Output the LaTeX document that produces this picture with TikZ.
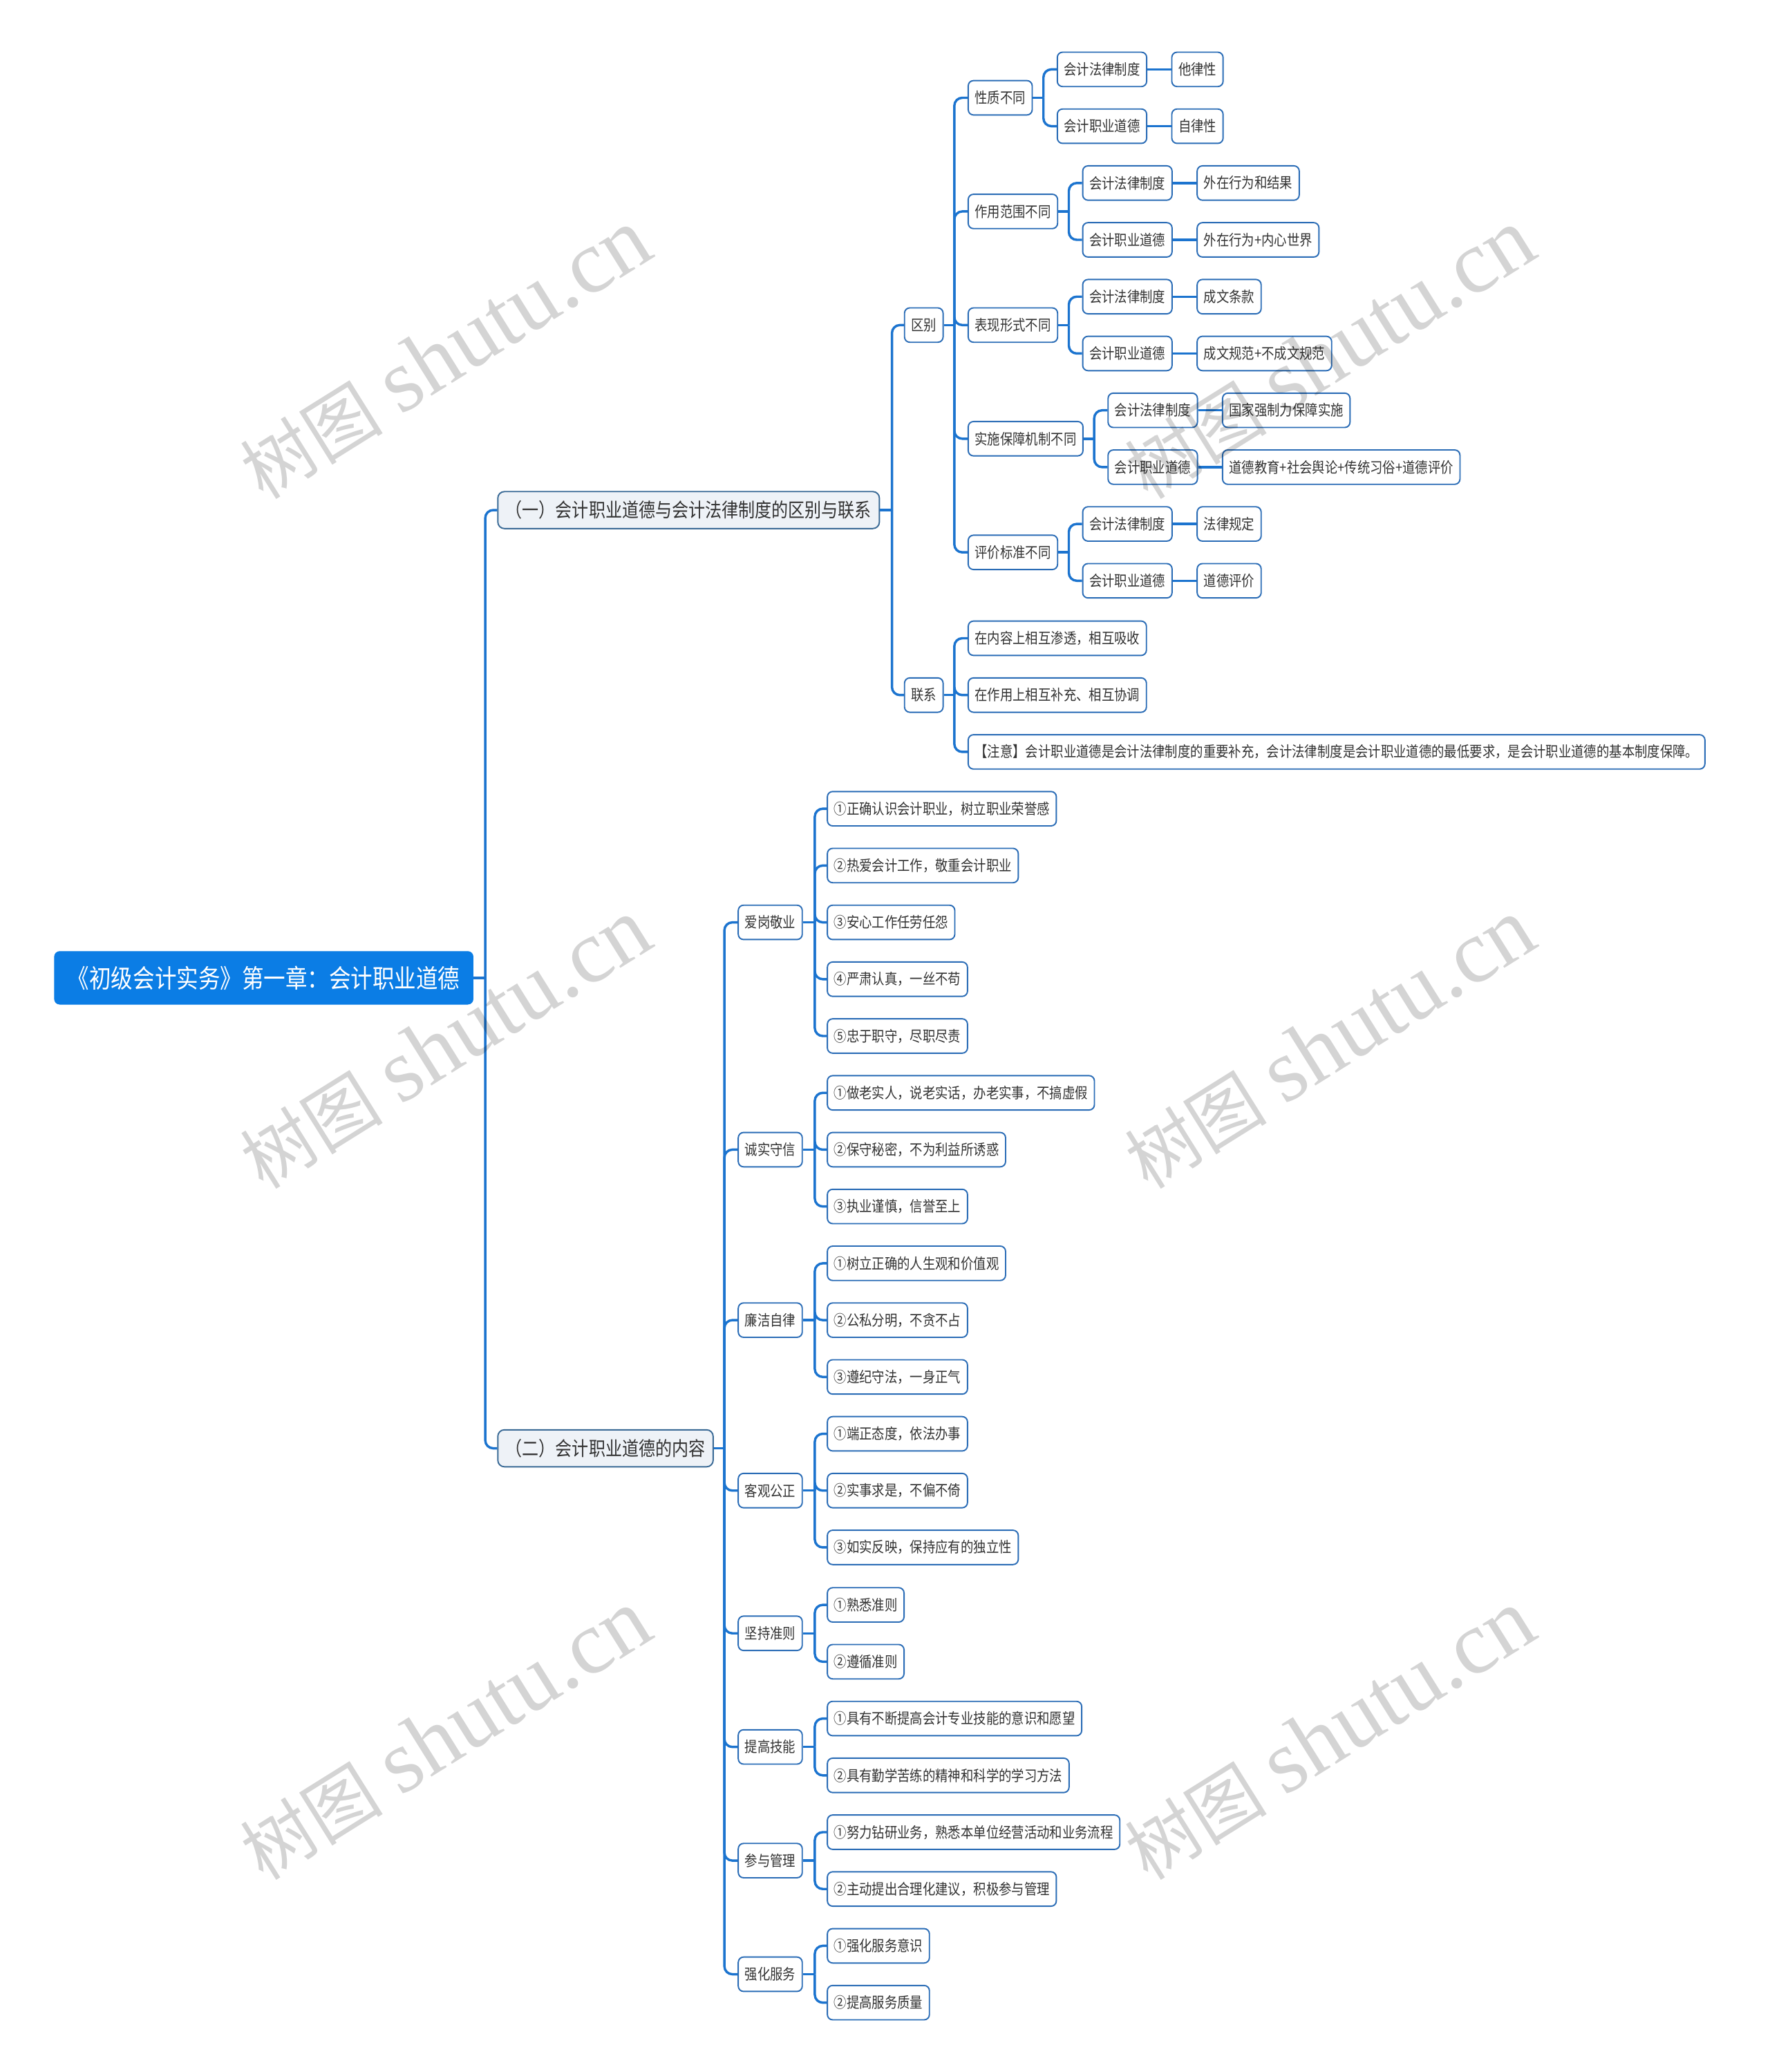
\documentclass[tikz,border=0pt]{standalone}
\usepackage{fontspec}
\newfontfamily\cjk[FakeStretch=0.85]{Noto Sans CJK SC}
\newfontfamily\wmhan{Noto Sans CJK SC}
\newfontfamily\wmlat{Liberation Serif}
\usepackage{xcolor}
\definecolor{rootblue}{HTML}{0B7DE5}
\definecolor{linkblue}{HTML}{1C74CF}
\definecolor{edge}{HTML}{2A6CB6}
\definecolor{subfill}{HTML}{EEF2F7}
\definecolor{subedge}{HTML}{3A6A96}
\definecolor{ink}{HTML}{333333}
\usepackage{tikz}
\usetikzlibrary{positioning}

\begin{document}
\begin{tikzpicture}[
  x=1pt,y=-1pt,
  node distance=18pt,
  root/.style={fill=rootblue,draw=rootblue,rounded corners=4pt,text=white,font=\cjk\fontsize{19.4}{22}\selectfont,minimum height=40pt,inner xsep=10pt,inner ysep=0pt},
  sub/.style={fill=subfill,draw=subedge,line width=1pt,rounded corners=5pt,text=ink,font=\cjk\fontsize{14.8}{17}\selectfont,minimum height=28pt,inner xsep=6pt,inner ysep=0pt},
  item/.style={fill=white,draw=edge,line width=1pt,rounded corners=4pt,text=ink,font=\cjk\fontsize{11.3}{13}\selectfont,minimum height=26pt,inner xsep=5pt,inner ysep=0pt},
  link/.style={draw=linkblue,line width=1.8pt,rounded corners=6pt},
  wm/.style={rotate=32,text=black,opacity=0.17,inner sep=0pt}
]
\fill[white] (0,0) rectangle (1339,1568);
\useasboundingbox (0,0) rectangle (1339,1568);

% root and first level
\node[root,anchor=west] (root) at (41,740) {《初级会计实务》第一章：会计职业道德};
\node[sub,right=of root,yshift=354pt] (A) {（一）会计职业道德与会计法律制度的区别与联系};
\node[sub,right=of root,yshift=-356pt] (B) {（二）会计职业道德的内容};

% (一)
\node[item,right=of A,yshift=140pt] (diff) {区别};
\node[item,right=of A,yshift=-140pt] (rel) {联系};

\node[item,right=of diff,yshift=172pt] (nat) {性质不同};
\node[item,right=of diff,yshift=86pt] (rng) {作用范围不同};
\node[item,right=of diff] (form) {表现形式不同};
\node[item,right=of diff,yshift=-86pt] (enf) {实施保障机制不同};
\node[item,right=of diff,yshift=-172pt] (eval) {评价标准不同};

\node[item,right=of nat,yshift=21.5pt] (nat-law) {会计法律制度};
\node[item,right=of nat,yshift=-21.5pt] (nat-eth) {会计职业道德};
\node[item,right=of nat-law] (nat-law-v) {他律性};
\node[item,right=of nat-eth] (nat-eth-v) {自律性};

\node[item,right=of rng,yshift=21.5pt] (rng-law) {会计法律制度};
\node[item,right=of rng,yshift=-21.5pt] (rng-eth) {会计职业道德};
\node[item,right=of rng-law] (rng-law-v) {外在行为和结果};
\node[item,right=of rng-eth] (rng-eth-v) {外在行为+内心世界};

\node[item,right=of form,yshift=21.5pt] (form-law) {会计法律制度};
\node[item,right=of form,yshift=-21.5pt] (form-eth) {会计职业道德};
\node[item,right=of form-law] (form-law-v) {成文条款};
\node[item,right=of form-eth] (form-eth-v) {成文规范+不成文规范};

\node[item,right=of enf,yshift=21.5pt] (enf-law) {会计法律制度};
\node[item,right=of enf,yshift=-21.5pt] (enf-eth) {会计职业道德};
\node[item,right=of enf-law] (enf-law-v) {国家强制力保障实施};
\node[item,right=of enf-eth] (enf-eth-v) {道德教育+社会舆论+传统习俗+道德评价};

\node[item,right=of eval,yshift=21.5pt] (eval-law) {会计法律制度};
\node[item,right=of eval,yshift=-21.5pt] (eval-eth) {会计职业道德};
\node[item,right=of eval-law] (eval-law-v) {法律规定};
\node[item,right=of eval-eth] (eval-eth-v) {道德评价};

\node[item,right=of rel,yshift=43pt] (rel1) {在内容上相互渗透，相互吸收};
\node[item,right=of rel] (rel2) {在作用上相互补充、相互协调};
\node[item,right=of rel,yshift=-43pt] (rel3) {【注意】会计职业道德是会计法律制度的重要补充，会计法律制度是会计职业道德的最低要求，是会计职业道德的基本制度保障。};

% (二)
\node[item,right=of B,yshift=398pt] (love) {爱岗敬业};
\node[item,right=of B,yshift=226pt] (honest) {诚实守信};
\node[item,right=of B,yshift=97pt] (clean) {廉洁自律};
\node[item,right=of B,yshift=-32pt] (fair) {客观公正};
\node[item,right=of B,yshift=-140pt] (rule) {坚持准则};
\node[item,right=of B,yshift=-226pt] (skill) {提高技能};
\node[item,right=of B,yshift=-312pt] (mgmt) {参与管理};
\node[item,right=of B,yshift=-398pt] (serve) {强化服务};

\node[item,right=of love,yshift=86pt] (love1) {①正确认识会计职业，树立职业荣誉感};
\node[item,right=of love,yshift=43pt] (love2) {②热爱会计工作，敬重会计职业};
\node[item,right=of love] (love3) {③安心工作任劳任怨};
\node[item,right=of love,yshift=-43pt] (love4) {④严肃认真，一丝不苟};
\node[item,right=of love,yshift=-86pt] (love5) {⑤忠于职守，尽职尽责};

\node[item,right=of honest,yshift=43pt] (honest1) {①做老实人，说老实话，办老实事，不搞虚假};
\node[item,right=of honest] (honest2) {②保守秘密，不为利益所诱惑};
\node[item,right=of honest,yshift=-43pt] (honest3) {③执业谨慎，信誉至上};

\node[item,right=of clean,yshift=43pt] (clean1) {①树立正确的人生观和价值观};
\node[item,right=of clean] (clean2) {②公私分明，不贪不占};
\node[item,right=of clean,yshift=-43pt] (clean3) {③遵纪守法，一身正气};

\node[item,right=of fair,yshift=43pt] (fair1) {①端正态度，依法办事};
\node[item,right=of fair] (fair2) {②实事求是，不偏不倚};
\node[item,right=of fair,yshift=-43pt] (fair3) {③如实反映，保持应有的独立性};

\node[item,right=of rule,yshift=21.5pt] (rule1) {①熟悉准则};
\node[item,right=of rule,yshift=-21.5pt] (rule2) {②遵循准则};

\node[item,right=of skill,yshift=21.5pt] (skill1) {①具有不断提高会计专业技能的意识和愿望};
\node[item,right=of skill,yshift=-21.5pt] (skill2) {②具有勤学苦练的精神和科学的学习方法};

\node[item,right=of mgmt,yshift=21.5pt] (mgmt1) {①努力钻研业务，熟悉本单位经营活动和业务流程};
\node[item,right=of mgmt,yshift=-21.5pt] (mgmt2) {②主动提出合理化建议，积极参与管理};

\node[item,right=of serve,yshift=21.5pt] (serve1) {①强化服务意识};
\node[item,right=of serve,yshift=-21.5pt] (serve2) {②提高服务质量};

% connectors
\draw[link] (root.east) -- ++(9,0) coordinate (root-t);
\foreach \c in {A,B} \draw[link] (root-t) |- (\c.west);
\draw[link] (A.east) -- ++(9,0) coordinate (A-t);
\foreach \c in {diff,rel} \draw[link] (A-t) |- (\c.west);
\draw[link] (diff.east) -- ++(8,0) coordinate (diff-t);
\foreach \c in {nat,rng,form,enf,eval} \draw[link] (diff-t) |- (\c.west);
\foreach \p in {nat,rng,form,enf,eval} {
  \draw[link] (\p.east) -- ++(8,0) coordinate (\p-t);
  \draw[link] (\p-t) |- (\p-law.west);
  \draw[link] (\p-t) |- (\p-eth.west);
  \draw[link] (\p-law) -- (\p-law-v);
  \draw[link] (\p-eth) -- (\p-eth-v);
}
\draw[link] (rel.east) -- ++(8,0) coordinate (rel-t);
\foreach \c in {rel1,rel2,rel3} \draw[link] (rel-t) |- (\c.west);

\draw[link] (B.east) -- ++(8,0) coordinate (B-t);
\foreach \c in {love,honest,clean,fair,rule,skill,mgmt,serve} \draw[link] (B-t) |- (\c.west);
\draw[link] (love.east) -- ++(9,0) coordinate (love-t);
\foreach \i in {1,...,5} \draw[link] (love-t) |- (love\i.west);
\foreach \p in {honest,clean,fair} {
  \draw[link] (\p.east) -- ++(9,0) coordinate (\p-t);
  \foreach \i in {1,2,3} \draw[link] (\p-t) |- (\p\i.west);
}
\foreach \p in {rule,skill,mgmt,serve} {
  \draw[link] (\p.east) -- ++(9,0) coordinate (\p-t);
  \foreach \i in {1,2} \draw[link] (\p-t) |- (\p\i.west);
}

% watermark
\foreach \wx/\wy [count=\k] in {337/268,1006/268,337/790,1006/790,337/1313,1006/1313}
  \node[wm] (wm\k) at (\wx,\wy) {{\wmhan\fontsize{54}{54}\selectfont 树图}\hspace{14pt}{\wmlat\fontsize{68}{68}\selectfont shutu.cn}};
\end{tikzpicture}
\end{document}
